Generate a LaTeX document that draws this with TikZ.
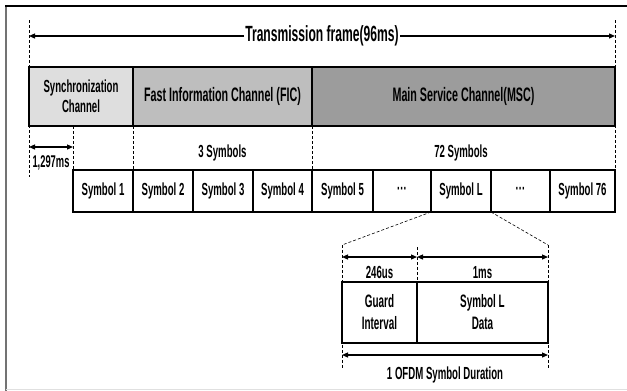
\documentclass[tikz,border=0pt]{standalone}
\usepackage{fontspec}
\setmainfont{Liberation Sans}[FakeStretch=0.55]
\usetikzlibrary{arrows.meta}
\definecolor{syncc}{HTML}{DEDEDE}
\definecolor{ficc}{HTML}{BEBEBE}
\definecolor{mscc}{HTML}{9C9C9C}
\begin{document}
\begin{tikzpicture}[x=1pt,y=-1pt,
  blk/.style={draw=black, line width=1.3pt, inner sep=0pt, outer sep=0pt, align=center,
    font=\bfseries\fontsize{17.5}{20}\selectfont},
  big/.style={font=\bfseries\fontsize{19.5}{22}\selectfont},
  lbl/.style={inner sep=1pt, font=\bfseries\fontsize{17.5}{20}\selectfont},
  dsh/.style={line width=0.6pt, dash pattern=on 3pt off 2pt},
  tip/.tip={Triangle[length=6pt,width=5pt]},
  dimarr/.style={line width=1.2pt, tip-tip},
  onearr/.style={line width=1.2pt, -tip}]
\useasboundingbox (0,0) rectangle (627,391);
\fill[white] (0,0) rectangle (627,391);
% frame
\draw[line width=2pt, black!55] (6,6) -- (6,391);
\draw[line width=1.3pt] (5,6) -- (627,6);
\draw[line width=1pt, black!12] (6,389.5) -- (627,389.5);

% top channel bar
\node[blk, fill=syncc, minimum width=104pt, minimum height=59pt] (sync) at (81,96.5) {Synchronization\\Channel};
\node[blk, big, fill=ficc, minimum width=179pt, minimum height=59pt] (fic) at (222.5,96.5) {Fast Information Channel (FIC)};
\node[blk, big, fill=mscc, minimum width=303pt, minimum height=59pt] (msc) at (463.5,96.5) {Main Service Channel(MSC)};

% symbol row
\node[blk, minimum width=60pt, minimum height=42pt] (s1) at (103,191) {Symbol 1};
\node[blk, minimum width=60pt, minimum height=42pt] (s2) at (163,191) {Symbol 2};
\node[blk, minimum width=60pt, minimum height=42pt] (s3) at (223,191) {Symbol 3};
\node[blk, minimum width=59pt, minimum height=42pt] (s4) at (282.5,191) {Symbol 4};
\node[blk, minimum width=61pt, minimum height=42pt] (s5) at (342.5,191) {Symbol 5};
\node[blk, minimum width=58pt, minimum height=42pt] (d1) at (402,191) {···};
\node[blk, minimum width=60pt, minimum height=42pt] (sL) at (461,191) {Symbol L};
\node[blk, minimum width=59pt, minimum height=42pt] (d2) at (520.5,191) {···};
\node[blk, minimum width=65pt, minimum height=42pt] (s76) at (582.5,191) {Symbol 76};

% title
\node[inner sep=1pt, font=\bfseries\fontsize{22}{25}\selectfont] (title) at (322,36) {Transmission frame(96ms)};
\coordinate (tl) at (29,36);
\coordinate (tr) at (615,36);
\draw[onearr] (title.west) -- (tl);
\draw[onearr] (title.east) -- (tr);

% dashed guides
\coordinate (g1a) at (29,20);
\coordinate (g1b) at (29,177);
\draw[dsh] (g1a) -- (g1b);
\coordinate (g2a) at (615,20);
\draw[dsh] (g2a) -- (s76.north east);
\draw[dsh] (sync.south -| s1.north west) -- (s1.north west);
\draw[dsh] (sync.south east) -- (s2.north west);
\draw[dsh] (fic.south east) -- (s5.north west);

\node[lbl] (n3) at (222.5,153) {3 Symbols};
\node[lbl] (n72) at (461,153) {72 Symbols};

% 1.297ms
\coordinate (ta) at (29,147);
\coordinate (tb) at (73,147);
\draw[dimarr] (ta) -- (tb);
\node[lbl, font=\bfseries\fontsize{17}{20}\selectfont] (t1297) at (51,162.5) {1,297ms};

% OFDM detail
\node[blk, font=\bfseries\fontsize{18}{22}\selectfont, minimum width=75pt, minimum height=61pt] (guard) at (379.5,312.5) {Guard\\Interval};
\node[blk, font=\bfseries\fontsize{18}{22}\selectfont, minimum width=131pt, minimum height=61pt] (data) at (482.5,312.5) {Symbol L\\Data};

\coordinate (zl) at (342,245);
\coordinate (zr) at (548,245);
\coordinate (zlb) at (342,368);
\coordinate (zrb) at (548,368);
\coordinate (zm) at (417,247);
\draw[dsh] (sL.south west) -- (zl);
\draw[dsh] (sL.south east) -- (zr);
\draw[dsh] (zl) -- (zlb);
\draw[dsh] (zr) -- (zrb);
\draw[dsh] (zm) -- (data.north west);

\coordinate (a1) at (342,257);
\coordinate (a2) at (417,257);
\coordinate (a3) at (548,257);
\draw[dimarr] (a1) -- (a2);
\draw[dimarr] (a2) -- (a3);
\node[lbl] (l246) at (379.5,272.5) {246us};
\node[lbl] (l1ms) at (482.5,272.5) {1ms};

\coordinate (b1) at (342,355);
\coordinate (b2) at (548,355);
\draw[dimarr] (b1) -- (b2);
\node[lbl] (lofdm) at (445,375) {1 OFDM Symbol Duration};
\end{tikzpicture}
\end{document}
